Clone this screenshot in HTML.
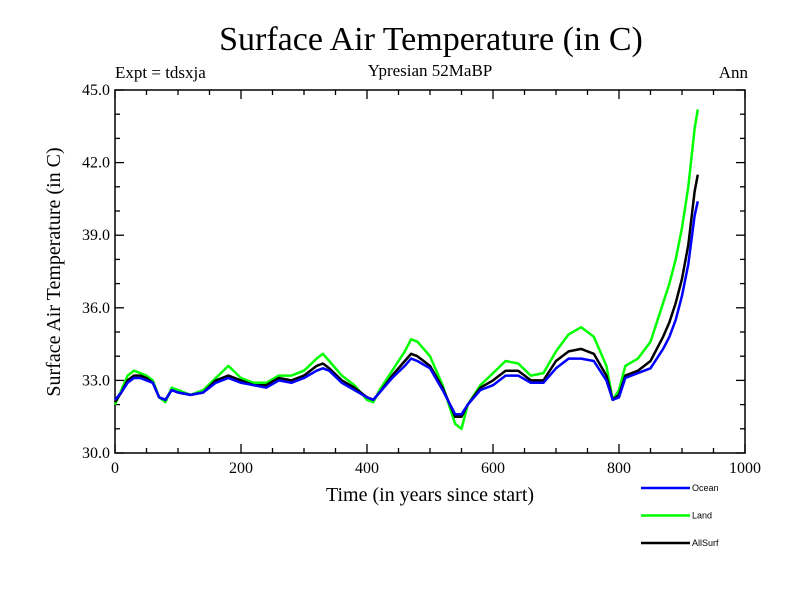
<!DOCTYPE html>
<html><head><meta charset="utf-8"><style>
body{margin:0;background:#fff;}
svg{display:block;font-family:"Liberation Serif",serif;}
</style></head><body>
<svg id="chart" width="800" height="600" viewBox="0 0 800 600">
<text x="431" y="50" font-size="34" text-anchor="middle">Surface Air Temperature (in C)</text>
<text x="115" y="78" font-size="17">Expt = tdsxja</text>
<text x="430" y="76" font-size="17" text-anchor="middle">Ypresian  52MaBP</text>
<text x="748" y="78" font-size="17" text-anchor="end">Ann</text>
<text transform="translate(60,272) rotate(-90)" font-size="20" text-anchor="middle">Surface Air Temperature (in C)</text>
<text x="430" y="501" font-size="20" text-anchor="middle">Time (in years since start)</text>
<g id="axes"></g>
<g id="series"></g>
<g id="legend"></g>
</svg>
<script>
const years=[0,10,20,30,40,50,60,70,80,90,100,120,140,160,180,200,220,240,260,280,300,320,330,340,360,380,400,410,420,440,460,470,480,500,520,540,550,560,580,600,620,640,660,680,700,720,740,760,780,790,800,810,830,850,870,880,890,900,910,920,925];
const ocean=[32.2,32.5,32.9,33.1,33.1,33.0,32.9,32.3,32.2,32.6,32.5,32.4,32.5,32.9,33.1,32.9,32.8,32.7,33.0,32.9,33.1,33.4,33.5,33.4,32.9,32.6,32.3,32.2,32.5,33.1,33.6,33.9,33.8,33.5,32.6,31.6,31.6,32.0,32.6,32.8,33.2,33.2,32.9,32.9,33.5,33.9,33.9,33.8,33.0,32.2,32.3,33.1,33.3,33.5,34.3,34.8,35.5,36.5,37.8,39.8,40.4];
const land=[32.0,32.6,33.2,33.4,33.3,33.2,33.0,32.3,32.1,32.7,32.6,32.4,32.6,33.1,33.6,33.1,32.9,32.9,33.2,33.2,33.4,33.9,34.1,33.8,33.2,32.8,32.2,32.1,32.6,33.4,34.2,34.7,34.6,34.0,32.8,31.2,31.0,32.0,32.8,33.3,33.8,33.7,33.2,33.3,34.2,34.9,35.2,34.8,33.6,32.2,32.6,33.6,33.9,34.6,36.2,37.0,38.0,39.3,41.0,43.4,44.2];
const allsurf=[32.1,32.5,33.0,33.2,33.2,33.1,32.9,32.3,32.2,32.6,32.5,32.4,32.5,33.0,33.2,33.0,32.8,32.8,33.1,33.0,33.2,33.6,33.7,33.5,33.0,32.7,32.3,32.2,32.5,33.2,33.8,34.1,34.0,33.6,32.7,31.5,31.5,32.0,32.7,33.0,33.4,33.4,33.0,33.0,33.8,34.2,34.3,34.1,33.2,32.2,32.4,33.2,33.4,33.8,34.8,35.4,36.2,37.2,38.6,40.8,41.5];
const xTicks=[0,200,400,600,800,1000];
const yTicks=[30,33,36,39,42,45];
const yTickLabels=["30.0","33.0","36.0","39.0","42.0","45.0"];
const seriesNames=["Ocean","Land","AllSurf"];
const seriesColors=["#0000ff","#00ff00","#000000"];

const NS="http://www.w3.org/2000/svg";
const X0=115,X1=745,Y0=453,Y1=90;
const xs=v=>X0+(v-0)/(1000-0)*(X1-X0);
const ys=v=>Y0-(v-30)/(45-30)*(Y0-Y1);
function mk(tag,attrs,parent){const e=document.createElementNS(NS,tag);for(const k in attrs)e.setAttribute(k,attrs[k]);parent.appendChild(e);return e;}
const axes=document.getElementById('axes');
const frame=mk('rect',{x:X0,y:Y1,width:X1-X0,height:Y0-Y1,fill:'none',stroke:'#000','stroke-width':1.5},axes);


for(let v=0;v<=1000;v+=50){
  const L=(v%200===0)?9:5;const x=xs(v);
  const t1=mk('line',{x1:x,y1:Y0,x2:x,y2:Y0-L,stroke:'#000','stroke-width':1.3},axes);
  
  
  const t2=mk('line',{x1:x,y1:Y1,x2:x,y2:Y1+L,stroke:'#000','stroke-width':1.3},axes);
  
  
}
for(let v=30;v<=45;v+=1){
  const L=(v%3===0)?9:5;const y=ys(v);
  const t1=mk('line',{x1:X0,y1:y,x2:X0+L,y2:y,stroke:'#000','stroke-width':1.3},axes);
  
  
  const t2=mk('line',{x1:X1,y1:y,x2:X1-L,y2:y,stroke:'#000','stroke-width':1.3},axes);
  
  
}
xTicks.forEach(v=>{
  const t=mk('text',{x:xs(v),y:Y0+20,'font-size':16,'text-anchor':'middle'},axes);t.textContent=v;
  
  
});
yTicks.forEach((v,i)=>{
  const t=mk('text',{x:X0-5,y:ys(v)+5,'font-size':16,'text-anchor':'end'},axes);t.textContent=yTickLabels[i];
  
  
});
const sg=document.getElementById('series');
const data=[land,allsurf,ocean];const cols=["#00ff00","#000000","#0000ff"];const nm=["land-line","allsurf-line","ocean-line"];
data.forEach((arr,k)=>{
  const d=arr.map((v,i)=>(i?'L':'M')+xs(years[i]).toFixed(1)+','+ys(v).toFixed(1)).join('');
  const p=mk('path',{d:d,fill:'none',stroke:cols[k],'stroke-width':2.5,'stroke-linejoin':'round'},sg);
  
  
});
const lg=document.getElementById('legend');
seriesNames.forEach((n,i)=>{
  const y=488+i*27.5;
  const l=mk('line',{x1:641,y1:y,x2:690,y2:y,stroke:seriesColors[i],'stroke-width':2.5},lg);
  
  
  const t=mk('text',{x:692,y:y+3,'font-size':9,'font-family':'Liberation Sans, sans-serif'},lg);t.textContent=n;
  
  
});
</script>
</body></html>
